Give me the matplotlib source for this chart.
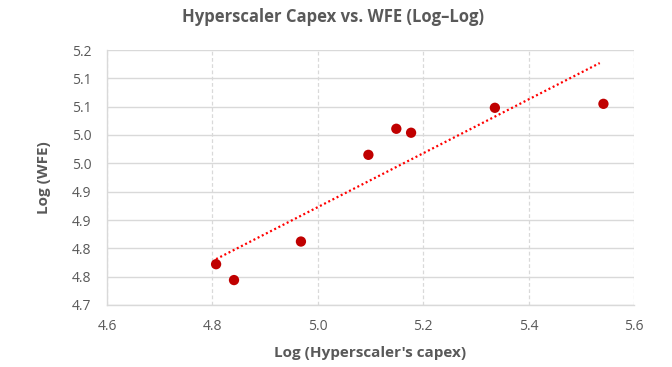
import matplotlib.pyplot as plt
import numpy as np

# data
capex_log = [4.807, 4.841, 4.968, 5.096, 5.149, 5.177, 5.336, 5.542]
wfe_log = [4.772, 4.744, 4.812, 4.965, 5.011, 5.004, 5.048, 5.055]
trend_x = [4.807, 5.535]
trend_y = [4.781, 5.127]

x_ticks = [4.6, 4.8, 5.0, 5.2, 5.4, 5.6]
x_labels = ["4.6", "4.8", "5.0", "5.2", "5.4", "5.6"]
y_ticks = [4.70, 4.75, 4.80, 4.85, 4.90, 4.95, 5.00, 5.05, 5.10, 5.15]
y_labels = ["4.7", "4.8", "4.8", "4.9", "4.9", "5.0", "5.0", "5.1", "5.1", "5.2"]


def main():
    plt.rcParams['font.family'] = ['Open Sans', 'DejaVu Sans']
    grey = '#595959'
    grid = '#d9d9d9'

    fig = plt.figure(figsize=(6.72, 3.67), dpi=100)
    ax = fig.add_axes([107 / 672, 62 / 367, 527 / 672, 255 / 367])

    ax.plot(trend_x, trend_y, color='#ff0000', lw=1.6,
            linestyle=(0, (0.9, 1.2)), zorder=2)
    ax.scatter(capex_log, wfe_log, s=55, color='#c00000', zorder=3,
               edgecolors='none')

    ax.set_xlim(4.6, 5.6)
    ax.set_ylim(4.70, 5.15)
    ax.set_xticks(x_ticks)
    ax.set_xticklabels(x_labels)
    ax.set_yticks(y_ticks)
    ax.set_yticklabels(y_labels)
    ax.tick_params(axis='x', length=0, colors=grey, labelsize=10, pad=10)
    ax.tick_params(axis='y', length=0, colors=grey, labelsize=10, pad=11)

    ax.grid(axis='y', color=grid, lw=1, linestyle='-')
    ax.grid(axis='x', color=grid, lw=0.9, linestyle=(0, (3, 2)))
    ax.set_axisbelow(True)
    for side in ('top', 'right'):
        ax.spines[side].set_visible(False)
    for side in ('left', 'bottom'):
        ax.spines[side].set_color(grid)
        ax.spines[side].set_linewidth(1)

    ax.set_xlabel("Log (Hyperscaler's capex)", color=grey, fontsize=11,
                  fontweight='bold', labelpad=9)
    ax.set_ylabel("Log (WFE)", color=grey, fontsize=11,
                  fontweight='bold', labelpad=15)
    fig.text(333 / 672, 1 - 17 / 367, "Hyperscaler Capex vs. WFE (Log\u2013Log)",
             ha='center', va='center', color=grey, fontsize=12,
             fontweight='bold')

    fig.savefig('out.png', dpi=100)


if __name__ == '__main__':
    main()
